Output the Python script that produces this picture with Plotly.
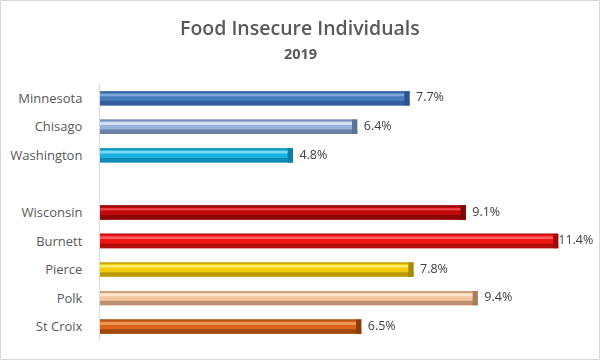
import plotly.graph_objects as go

# ---- data ----
categories = ["Minnesota", "Chisago", "Washington", " ", "Wisconsin", "Burnett", "Pierce", "Polk", "St Croix"]
values = [7.7, 6.4, 4.8, None, 9.1, 11.4, 7.8, 9.4, 6.5]
title_text = "Food Insecure Individuals"
subtitle_text = "2019"

# ---- styles ----
base_colors = ["#4A7EBB", "#98B3D9", "#19B2E0", "#FFFFFF", "#C00A0A", "#F01515", "#F2CC0C", "#F3C6A0", "#D9661A"]
dark_colors = ["#2E5590", "#5C7194", "#0A7EA3", "#FFFFFF", "#7E0606", "#A00808", "#A68A05", "#A87E5E", "#8C3E0A"]
light_colors = ["#86ACDD", "#E4ECF8", "#84DDF7", "#FFFFFF", "#EE4A4A", "#FF6A6A", "#FFF27A", "#FFE9D4", "#F4A466"]

XMAX = 12.19
vals = [v if v is not None else 0 for v in values]
end_w = 0.13
end_base = [max(v - end_w, 0) for v in vals]
end_len = [end_w if v > 0 else 0 for v in vals]

fig = go.Figure()
# base bar
fig.add_trace(go.Bar(y=categories, x=vals, orientation="h", marker=dict(color=base_colors, line=dict(width=0)),
                     width=0.5, offset=-0.25, hoverinfo="skip"))
# thin dark top edge
fig.add_trace(go.Bar(y=categories, x=vals, orientation="h", marker=dict(color=dark_colors, line=dict(width=0)),
                     width=0.04, offset=-0.25, opacity=0.5, hoverinfo="skip"))
# dark lower part
fig.add_trace(go.Bar(y=categories, x=vals, orientation="h", marker=dict(color=dark_colors, line=dict(width=0)),
                     width=0.16, offset=0.09, opacity=0.75, hoverinfo="skip"))
# highlight stripe
fig.add_trace(go.Bar(y=categories, x=vals, orientation="h", marker=dict(color=light_colors, line=dict(width=0)),
                     width=0.09, offset=-0.16, opacity=0.9, hoverinfo="skip"))
# dark end cap
fig.add_trace(go.Bar(y=categories, x=end_len, base=end_base, orientation="h",
                     marker=dict(color=dark_colors, line=dict(width=0)),
                     width=0.5, offset=-0.25, hoverinfo="skip"))
# labels
labels = []
for v in values:
    if v is None:
        labels.append("")
    elif v > XMAX - 1.0:
        labels.append(f"{v:.1f}%")
    else:
        labels.append(f"  {v:.1f}%")
fig.add_trace(go.Scatter(y=categories, x=vals, mode="text", text=labels,
                         textposition="middle right", textfont=dict(family="Open Sans", size=12.5, color="#404040"),
                         hoverinfo="skip", cliponaxis=False))

W, H = 601, 361
ml, mr, mt, mb = 100, 11, 84, 20
pw, ph = W - ml - mr, H - mt - mb

fig.update_layout(
    width=W, height=H, barmode="overlay", showlegend=False,
    margin=dict(l=ml, r=mr, t=mt, b=mb, autoexpand=False),
    paper_bgcolor="white", plot_bgcolor="white",
    font=dict(family="Open Sans", color="#595959"),
    xaxis=dict(range=[0, XMAX], showgrid=False, zeroline=False, showticklabels=False, showline=False, fixedrange=True),
    yaxis=dict(range=[8.5, -0.5], showgrid=False, zeroline=False, showline=True, linecolor="#D9D9D9", linewidth=1,
               ticks="", ticklabelstandoff=14, tickfont=dict(family="Open Sans", size=13, color="#595959"),
               categoryorder="array", categoryarray=categories, fixedrange=True),
    annotations=[
        dict(text=title_text, xref="paper", yref="paper", x=(300 - ml) / pw, y=1 + (mt - 28) / ph,
             xanchor="center", yanchor="middle", showarrow=False,
             font=dict(family="Open Sans", size=19.5, color="#595959", weight=600)),
        dict(text=subtitle_text, xref="paper", yref="paper", x=(300 - ml) / pw,
             y=1 + (mt - 53) / ph, xanchor="center", yanchor="middle", showarrow=False,
             font=dict(family="Open Sans", size=14.5, color="#595959", weight=700)),
    ],
    shapes=[dict(type="rect", xref="paper", yref="paper",
                 x0=(0.5 - ml) / pw, x1=(W - 1.5 - ml) / pw, y0=-(mb - 1.5) / ph, y1=1 + (mt - 0.5) / ph,
                 line=dict(color="#D9D9D9", width=1), fillcolor="rgba(0,0,0,0)", layer="below")],
)
fig.write_html("out.html", config={"displayModeBar": False},
               post_script="document.body.style.margin='0px';document.body.style.padding='0px';")
